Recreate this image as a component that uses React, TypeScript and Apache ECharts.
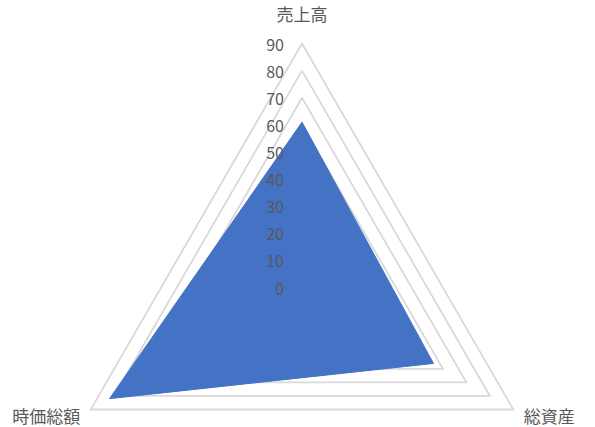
import { useEffect, useRef } from 'react';
import * as echarts from 'echarts';

const indicatorNames = ['売上高', '時価総額', '総資産'];
const seriesValues = [61, 82, 56];
const axisMax = 90;
const axisStep = 10;

const labelFont = '"Noto Sans CJK JP", "Noto Sans", sans-serif';
const center = [302, 287.5];
const radius = 244;

export default function App() {
  const chartRef = useRef<HTMLDivElement>(null);

  useEffect(() => {
    if (!chartRef.current) return;
    const chart = echarts.init(chartRef.current, undefined, { renderer: 'svg' });

    const option = {
      animation: false,
      backgroundColor: '#ffffff',
      radar: [
        {
          // grid + axis names, drawn below the filled area
          center,
          radius,
          shape: 'polygon',
          startAngle: 90,
          splitNumber: axisMax / axisStep,
          axisName: {
            color: '#595959',
            fontSize: 17,
            fontFamily: labelFont,
            padding: [0, 0, 10, 0],
          },
          nameGap: 12,
          axisLine: { show: false },
          axisTick: { show: false },
          axisLabel: { show: false },
          splitArea: { show: false },
          splitLine: { lineStyle: { color: '#d9d9d9', width: 1.8 } },
          indicator: indicatorNames.map((name) => ({ name, min: 0, max: axisMax })),
        },
        {
          // same geometry, only the tick labels of the top axis, drawn above the fill
          center,
          radius,
          shape: 'polygon',
          startAngle: 90,
          z: 10,
          splitNumber: axisMax / axisStep,
          axisName: { show: false },
          axisLine: { show: false },
          axisTick: { show: false },
          splitArea: { show: false },
          splitLine: { show: false },
          axisLabel: {
            show: true,
            color: '#595959',
            fontSize: 16,
            fontFamily: labelFont,
            margin: 18,
          },
          indicator: indicatorNames.map((name, i) => ({
            name,
            min: 0,
            max: axisMax,
            ...(i === 0 ? {} : { axisLabel: { show: false } }),
          })),
        },
      ],
      series: [
        {
          type: 'radar',
          radarIndex: 0,
          symbol: 'none',
          lineStyle: { color: '#4472c4', width: 1 },
          areaStyle: { color: '#4472c4', opacity: 1 },
          data: [{ value: seriesValues, name: '値' }],
        },
      ],
    };

    chart.setOption(option);
    return () => chart.dispose();
  }, []);

  return (
    <div
      ref={chartRef}
      style={{ position: 'fixed', left: 0, top: 0, width: '595px', height: '427px' }}
    />
  );
}
